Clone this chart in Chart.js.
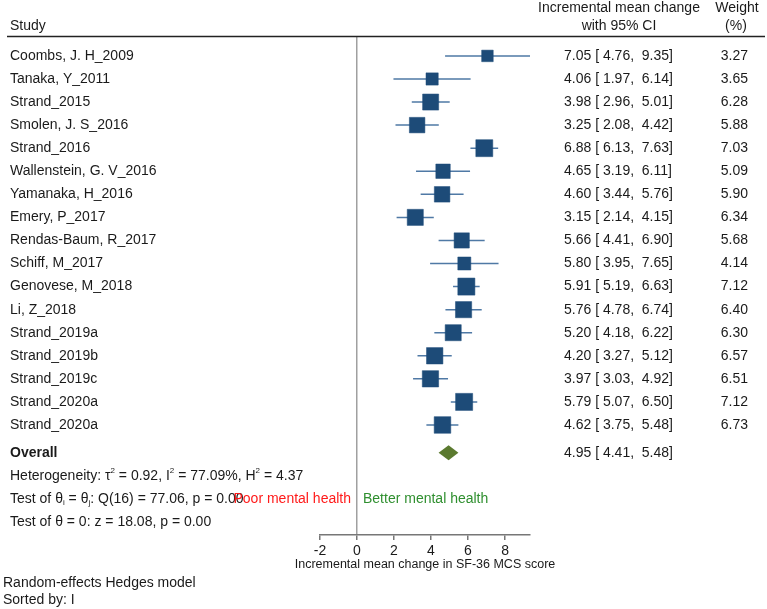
<!DOCTYPE html>
<html>
<head>
<meta charset="utf-8">
<script src="https://cdn.jsdelivr.net/npm/chart.js@4.4.0/dist/chart.umd.min.js"></script>
<style>
  body { margin: 0; background: #fff; }
  canvas { display: block; }
</style>
</head>
<body>
<canvas id="forest" width="767" height="609"></canvas>
<script>
const studies = [
  "Coombs, J. H_2009", "Tanaka, Y_2011", "Strand_2015", "Smolen, J. S_2016",
  "Strand_2016", "Wallenstein, G. V_2016", "Yamanaka, H_2016", "Emery, P_2017",
  "Rendas-Baum, R_2017", "Schiff, M_2017", "Genovese, M_2018", "Li, Z_2018",
  "Strand_2019a", "Strand_2019b", "Strand_2019c", "Strand_2020a", "Strand_2020a"
];
const estimates = [7.05, 4.06, 3.98, 3.25, 6.88, 4.65, 4.60, 3.15, 5.66, 5.80, 5.91, 5.76, 5.20, 4.20, 3.97, 5.79, 4.62];
const lower = [4.76, 1.97, 2.96, 2.08, 6.13, 3.19, 3.44, 2.14, 4.41, 3.95, 5.19, 4.78, 4.18, 3.27, 3.03, 5.07, 3.75];
const upper = [9.35, 6.14, 5.01, 4.42, 7.63, 6.11, 5.76, 4.15, 6.90, 7.65, 6.63, 6.74, 6.22, 5.12, 4.92, 6.50, 5.48];
const weights = [3.27, 3.65, 6.28, 5.88, 7.03, 5.09, 5.90, 6.34, 5.68, 4.14, 7.12, 6.40, 6.30, 6.57, 6.51, 7.12, 6.73];
const overall = [4.95, 4.41, 5.48]; // estimate, lower, upper
const xTicks = [-2, 0, 2, 4, 6, 8];
const xTitle = "Incremental mean change in SF-36 MCS score";

// row positions (y in "row" units)
const overallRow = 17.2;
const statRows = [18.2, 19.2, 20.2];

const FONT = 'Arial, "Liberation Sans", sans-serif';
const fmt = (v) => v.toFixed(2);
const pad5 = (v) => fmt(v).padStart(5, " ");
const ciText = (e, lo, hi) => `${fmt(e)} [${pad5(lo)}, ${pad5(hi)}]`;

// whisker segments, broken by null points
const whiskers = [];
studies.forEach((s, i) => {
  whiskers.push({ x: lower[i], y: i }, { x: upper[i], y: i }, { x: null, y: null });
});
const squares = studies.map((s, i) => ({ x: estimates[i], y: i }));

function drawRich(ctx, parts, x, y, size) {
  // parts: [text, "sup" | "sub" | undefined]
  let cx = x;
  parts.forEach(([t, mode]) => {
    if (mode) {
      ctx.font = `${Math.round(size * 0.6)}px ${FONT}`;
      ctx.fillText(t, cx, mode === "sup" ? y - size * 0.38 : y + size * 0.3);
    } else {
      ctx.font = `${size}px ${FONT}`;
      ctx.fillText(t, cx, y);
    }
    cx += ctx.measureText(t).width;
  });
}

const forestText = {
  id: "forestText",
  afterDatasetsDraw(chart) {
    const { ctx, scales: { x, y } } = chart;
    // overall diamond
    const yc = y.getPixelForValue(overallRow);
    ctx.save();
    ctx.fillStyle = "#5b7a2f";
    ctx.beginPath();
    ctx.moveTo(x.getPixelForValue(overall[1]), yc);
    ctx.lineTo(x.getPixelForValue(overall[0]), yc - 7.5);
    ctx.lineTo(x.getPixelForValue(overall[2]), yc);
    ctx.lineTo(x.getPixelForValue(overall[0]), yc + 7.5);
    ctx.closePath();
    ctx.fill();
    ctx.restore();
  },
  afterDraw(chart) {
    const { ctx, chartArea, scales: { y } } = chart;
    ctx.save();
    ctx.fillStyle = "#1a1a1a";
    ctx.textBaseline = "middle";
    ctx.font = `14px ${FONT}`;

    // header
    ctx.textAlign = "left";
    ctx.fillText("Study", 10, 26);
    ctx.textAlign = "center";
    ctx.fillText("Incremental mean change", 619, 8);
    ctx.fillText("with 95% CI", 619, 26);
    ctx.fillText("Weight", 737, 8);
    ctx.fillText("(%)", 736, 26);
    ctx.strokeStyle = "#222";
    ctx.lineWidth = 1.5;
    ctx.beginPath();
    ctx.moveTo(7, 36.5);
    ctx.lineTo(765, 36.5);
    ctx.stroke();

    // study rows
    studies.forEach((s, i) => {
      const py = y.getPixelForValue(i);
      ctx.textAlign = "left";
      ctx.fillText(s, 10, py);
      ctx.fillText(ciText(estimates[i], lower[i], upper[i]), 564, py);
      ctx.textAlign = "right";
      ctx.fillText(fmt(weights[i]), 748, py);
    });

    // overall
    const oy = y.getPixelForValue(overallRow);
    ctx.textAlign = "left";
    ctx.font = `bold 14px ${FONT}`;
    ctx.fillText("Overall", 10, oy);
    ctx.font = `14px ${FONT}`;
    ctx.fillText(ciText(overall[0], overall[1], overall[2]), 564, oy);

    // statistics
    drawRich(ctx, [["Heterogeneity: \u03c4"], ["2", "sup"], [" = 0.92, I"], ["2", "sup"], [" = 77.09%, H"], ["2", "sup"], [" = 4.37"]],
      10, y.getPixelForValue(statRows[0]), 14);
    drawRich(ctx, [["Test of \u03b8"], ["i", "sub"], [" = \u03b8"], ["j", "sub"], [": Q(16) = 77.06, p = 0.00"]],
      10, y.getPixelForValue(statRows[1]), 14);
    drawRich(ctx, [["Test of \u03b8 = 0: z = 18.08, p = 0.00"]],
      10, y.getPixelForValue(statRows[2]), 14);

    // direction labels
    const dy = y.getPixelForValue(statRows[1]);
    ctx.font = `14px ${FONT}`;
    ctx.fillStyle = "#ff1a1a";
    ctx.textAlign = "right";
    ctx.fillText("Poor mental health", 351, dy);
    ctx.fillStyle = "#2f8f2f";
    ctx.textAlign = "left";
    ctx.fillText("Better mental health", 363, dy);

    // x axis title (drawn here so it is not squeezed to the axis width)
    ctx.fillStyle = "#1a1a1a";
    ctx.textAlign = "center";
    ctx.font = `12.5px ${FONT}`;
    ctx.fillText(xTitle, (chartArea.left + chartArea.right) / 2, 565);

    // footnotes
    ctx.textAlign = "left";
    ctx.font = `14px ${FONT}`;
    ctx.fillText("Random-effects Hedges model", 3, 583);
    ctx.fillText("Sorted by: I", 3, 600);
    ctx.restore();
  }
};

new Chart(document.getElementById("forest"), {
  type: "scatter",
  data: {
    datasets: [
      {
        type: "line",
        order: 2,
        data: whiskers,
        borderColor: "#4f79a5",
        borderWidth: 1.5,
        pointRadius: 0,
        spanGaps: false,
        fill: false,
      },
      {
        order: 1,
        data: squares,
        pointStyle: "rect",
        pointRadius: weights.map((w) => (6.4 * Math.sqrt(w)) / Math.SQRT2),
        backgroundColor: "#1d4b78",
        borderColor: "#1d4b78",
        borderWidth: 0.5,
      },
    ],
  },
  options: {
    responsive: false,
    animation: false,
    layout: { padding: { left: 320, right: 237, top: 37, bottom: 37 } },
    plugins: {
      legend: { display: false },
      tooltip: { enabled: false },
    },
    scales: {
      x: {
        type: "linear",
        min: -2,
        max: 9.35,
        afterBuildTicks: (scale) => {
          scale.ticks = xTicks.map((v) => ({ value: v }));
        },
        afterFit: (scale) => {
          scale.height = 37;
        },
        grid: {
          color: (c) => (c.tick && c.tick.value === 0 ? "#a0a0a0" : "rgba(0,0,0,0)"),
          tickColor: "#777",
          tickLength: 5,
          lineWidth: 1.5,
        },
        border: { display: true, color: "#777", width: 1.5 },
        ticks: {
          color: "#1a1a1a",
          font: { family: FONT, size: 14 },
          padding: 3,
          maxRotation: 0,
          callback: (v) => v,
        },
        title: { display: false },
      },
      y: {
        type: "linear",
        display: false,
        reverse: true,
        min: -0.82,
        max: 20.77,
      },
    },
  },
  plugins: [forestText],
});
</script>
</body>
</html>
